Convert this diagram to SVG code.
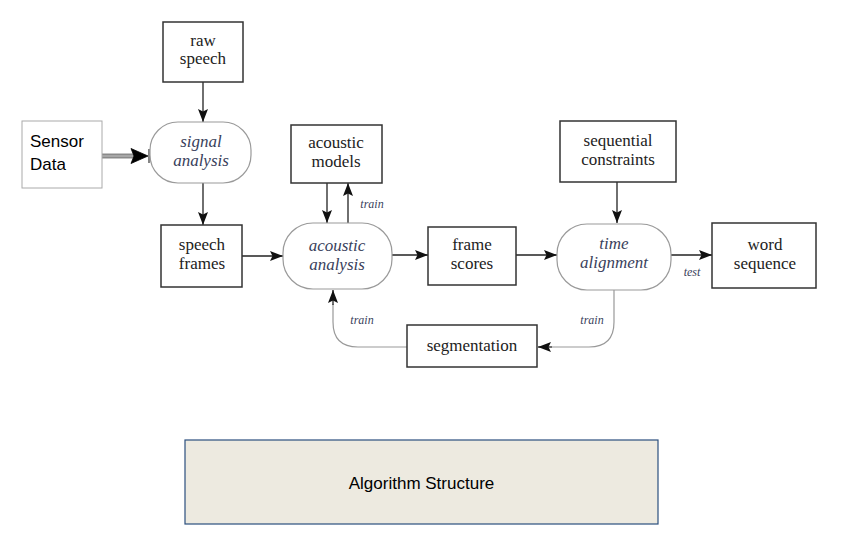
<svg xmlns="http://www.w3.org/2000/svg" width="854" height="534" viewBox="0 0 854 534">
<defs>
<marker id="ah" markerWidth="14" markerHeight="11" refX="13" refY="5.5" orient="auto" markerUnits="userSpaceOnUse">
<path d="M0,0.5 L13,5.5 L0,10.5 L2.5,5.5 Z" fill="#111"/>
</marker>
</defs>
<style>
.box{fill:#fff;stroke:#333;stroke-width:1.5}
.proc{fill:#fff;stroke:#9a9a9a;stroke-width:1.2}
.t{font-family:"Liberation Serif","DejaVu Serif","Times New Roman",serif;font-size:17px;fill:#222;text-anchor:middle}
.it{font-family:"Liberation Serif","DejaVu Serif","Times New Roman",serif;font-size:17px;font-style:italic;fill:#3a3f5c;text-anchor:middle}
.lbl{font-family:"Liberation Serif","DejaVu Serif","Times New Roman",serif;font-size:12px;font-style:italic;fill:#3a3f5c;text-anchor:middle}
.sans{font-family:"Liberation Sans",Arial,sans-serif;font-size:17px;fill:#000}
.c{fill:none;stroke:#222;stroke-width:1.3}
.cg{fill:none;stroke:#999;stroke-width:1.2}
</style>
<rect width="854" height="534" fill="#fff"/>

<g id="connectors">
<line class="c" x1="203" y1="82" x2="203" y2="122" marker-end="url(#ah)"/>
<line x1="102" y1="156" x2="134" y2="156" stroke="#8a8a8a" stroke-width="5"/>
<line x1="102" y1="156" x2="134" y2="156" stroke="#b0b0b0" stroke-width="1.5"/>
<path d="M131,148.500 L148,156 L131,163.500 L134,156 Z" fill="#000" stroke="#000" stroke-width="0.8"/>
<line x1="149" y1="149" x2="149" y2="163" stroke="#333" stroke-width="1.2"/>
<line class="c" x1="203" y1="183" x2="203" y2="225" marker-end="url(#ah)"/>
<line class="c" x1="242" y1="256" x2="283" y2="256" marker-end="url(#ah)"/>
<line class="c" x1="327" y1="183" x2="327" y2="223" marker-end="url(#ah)"/>
<line class="c" x1="348" y1="223" x2="348" y2="183" marker-end="url(#ah)"/>
<line class="c" x1="392" y1="255" x2="428" y2="255" marker-end="url(#ah)"/>
<line class="c" x1="516" y1="255" x2="557" y2="255" marker-end="url(#ah)"/>
<line class="c" x1="617" y1="182" x2="617" y2="223" marker-end="url(#ah)"/>
<line class="c" x1="671" y1="255" x2="712" y2="255" marker-end="url(#ah)"/>
<path class="cg" d="M614,290 L614,322 Q614,347 589,347 L552,347"/>
<line class="c" x1="552" y1="347" x2="538" y2="347" marker-end="url(#ah)"/>
<path class="cg" d="M407,347 L358,347 Q333,347 333,322 L333,304"/>
<line class="c" x1="333" y1="305" x2="333" y2="290" marker-end="url(#ah)"/>
<text class="lbl" x="372" y="208">train</text>
<text class="lbl" x="692" y="276">test</text>
<text class="lbl" x="592" y="324">train</text>
<text class="lbl" x="362" y="324">train</text>
</g>

<g id="raw-speech">
<rect class="box" x="163" y="22" width="80" height="60"/>
<text class="t" x="203" y="46">raw</text>
<text class="t" x="203" y="64">speech</text>
</g>

<g id="sensor-data">
<rect x="22" y="121" width="80" height="67" fill="#fff" stroke="#aaa" stroke-width="1"/>
<text class="sans" x="30" y="147">Sensor</text>
<text class="sans" x="30" y="170">Data</text>
</g>

<g id="signal-analysis">
<rect class="proc" x="150" y="122" width="101" height="61" rx="28" ry="28"/>
<text class="it" x="201" y="147">signal</text>
<text class="it" x="201" y="166">analysis</text>
</g>

<g id="speech-frames">
<rect class="box" x="161" y="225" width="81" height="62"/>
<text class="t" x="202" y="250">speech</text>
<text class="t" x="202" y="269">frames</text>
</g>

<g id="acoustic-models">
<rect class="box" x="291" y="125" width="91" height="58"/>
<text class="t" x="336" y="148">acoustic</text>
<text class="t" x="336" y="167">models</text>
</g>

<g id="acoustic-analysis">
<rect class="proc" x="283" y="223" width="109" height="66" rx="30" ry="30"/>
<text class="it" x="337" y="251">acoustic</text>
<text class="it" x="337" y="270">analysis</text>
</g>

<g id="frame-scores">
<rect class="box" x="428" y="227" width="88" height="58"/>
<text class="t" x="472" y="250">frame</text>
<text class="t" x="472" y="269">scores</text>
</g>

<g id="sequential-constraints">
<rect class="box" x="560" y="121" width="116" height="61"/>
<text class="t" x="618" y="146">sequential</text>
<text class="t" x="618" y="165">constraints</text>
</g>

<g id="time-alignment">
<rect class="proc" x="557" y="224" width="114" height="66" rx="30" ry="30"/>
<text class="it" x="614" y="249">time</text>
<text class="it" x="614" y="268">alignment</text>
</g>

<g id="word-sequence">
<rect class="box" x="712" y="223" width="104" height="65"/>
<text class="t" x="765" y="250">word</text>
<text class="t" x="765" y="269">sequence</text>
</g>

<g id="segmentation">
<rect class="box" x="407" y="325" width="130" height="42"/>
<text class="t" x="472" y="351">segmentation</text>
</g>

<g id="caption">
<rect x="185" y="440" width="473" height="84" fill="#edeae0" stroke="#2b4f7e" stroke-width="1.2"/>
<text class="sans" x="421.500" y="489" text-anchor="middle">Algorithm Structure</text>
</g>
</svg>
